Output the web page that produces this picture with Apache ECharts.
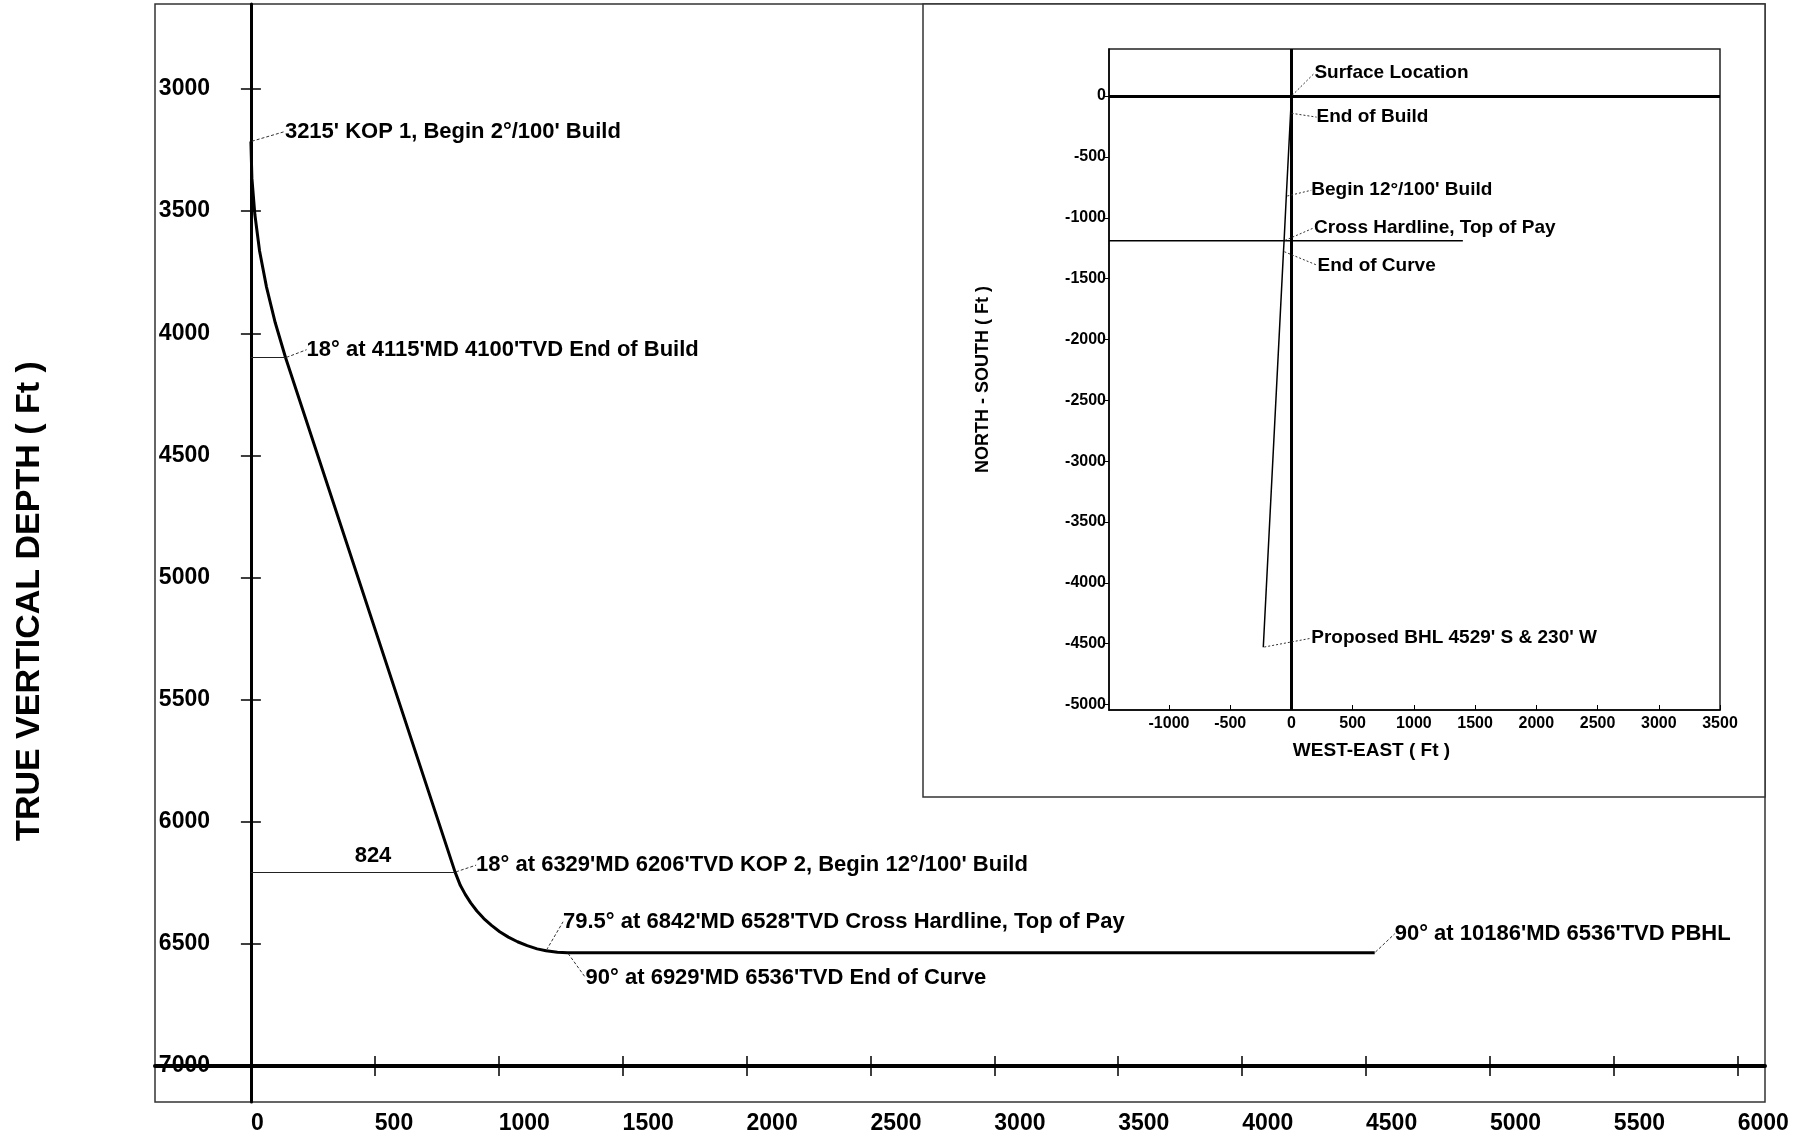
<!DOCTYPE html>
<html>
<head>
<meta charset="utf-8">
<title>Well Profile</title>
<script src="https://cdn.jsdelivr.net/npm/echarts@6/dist/echarts.min.js"></script>
<style>
  html, body { margin: 0; padding: 0; background: #fff; }
  #chart { width: 1796px; height: 1142px; }
</style>
</head>
<body>
<div id="chart"></div>
<script>
// section view: vertical section (ft) / true vertical depth (ft)
var sectionVS  = [0, 4, 16, 35, 63, 98, 140, 824, 845, 865, 887, 912, 940, 971, 1004, 1039, 1076, 1115, 1155, 1191, 1237, 1278, 4535];
var sectionTVD = [3215, 3365, 3514, 3663, 3811, 3956, 4100, 6206, 6260, 6297, 6332, 6365, 6396, 6424, 6450, 6472, 6491, 6507, 6520, 6528, 6534, 6536, 6536];

// horizontal tie lines from the axis to the curve
var tieVS  = [140, 824];
var tieTVD = [4100, 6206];

var noteText = [
    "3215' KOP 1, Begin 2°/100' Build",
    "18° at 4115'MD 4100'TVD End of Build",
    "18° at 6329'MD 6206'TVD KOP 2, Begin 12°/100' Build",
    "79.5° at 6842'MD 6528'TVD Cross Hardline, Top of Pay",
    "90° at 6929'MD 6536'TVD End of Curve",
    "90° at 10186'MD 6536'TVD PBHL"
];
var noteVS  = [0, 140, 824, 1191, 1278, 4535];
var noteTVD = [3215, 4100, 6206, 6528, 6536, 6536];

// plan view (inset): east (ft) / north (ft)
var planEast  = [0, -7, -42, -60, -65, -230];
var planNorth = [0, -140, -823, -1189, -1276, -4529];
var planText = [
    'Surface Location',
    'End of Build',
    "Begin 12°/100' Build",
    'Cross Hardline, Top of Pay',
    'End of Curve',
    "Proposed BHL 4529' S & 230' W"
];
var hardlineEast  = [-1490, 1400];
var hardlineNorth = -1189;

// tick labels
var vsTicks    = [0, 500, 1000, 1500, 2000, 2500, 3000, 3500, 4000, 4500, 5000, 5500, 6000];
var tvdTicks   = [3000, 3500, 4000, 4500, 5000, 5500, 6000, 6500, 7000];
var eastTicks  = [-1000, -500, 0, 500, 1000, 1500, 2000, 2500, 3000, 3500];
var northTicks = [-5000, -4500, -4000, -3500, -3000, -2500, -2000, -1500, -1000, -500, 0];

// label placement (pixels from the marked point)
var noteOffsets = [[33, -10], [20, -8], [20, -7], [16, -29], [17, 25], [19, -19]];
var planOffsets = [[22, -23], [25, 4], [24, -6], [29, -13], [33, 14], [47, -9]];

var FONT = "'Liberation Sans', Arial, sans-serif";
var INK = '#000';

function pairs(xs, ys) {
    var out = [];
    for (var i = 0; i < xs.length; i++) out.push([xs[i], ys[i]]);
    return out;
}
function plain(v) { return String(v); }

var chart = echarts.init(document.getElementById('chart'));

var option = {
    animation: false,
    backgroundColor: '#fff',
    textStyle: { fontFamily: FONT },
    grid: [
        { left: 155, top: 4, right: 31, bottom: 40, show: true, backgroundColor: 'transparent',
          borderColor: '#333', borderWidth: 1.5, outerBoundsMode: 'none', containLabel: false },
        { left: 923, top: 4, right: 31, bottom: 345, show: true, backgroundColor: '#fff',
          borderColor: '#333', borderWidth: 1.5, outerBoundsMode: 'none', containLabel: false },
        { left: 1109, top: 49, right: 76, bottom: 432, show: true, backgroundColor: '#fff',
          borderColor: '#222', borderWidth: 1.5, outerBoundsMode: 'none', containLabel: false }
    ],
    xAxis: [
        {
            gridIndex: 0, type: 'value', min: -387, max: 6110, position: 'bottom', offset: -36,
            axisLine: { show: true, onZero: false, lineStyle: { color: INK, width: 4 } },
            axisTick: { show: true, length: 10, customValues: vsTicks, lineStyle: { color: INK, width: 1.5 } },
            axisLabel: { show: true, customValues: vsTicks, formatter: plain, margin: 46, align: 'left', color: INK,
                         fontSize: 23, fontWeight: 'bold', fontFamily: FONT },
            splitLine: { show: false }
        },
        {
            gridIndex: 0, type: 'value', min: -387, max: 6110, position: 'bottom', offset: -36,
            axisLine: { show: false, onZero: false },
            axisTick: { show: true, inside: true, length: 10, customValues: vsTicks, lineStyle: { color: INK, width: 1.5 } },
            axisLabel: { show: false },
            splitLine: { show: false }
        },
        { gridIndex: 1, type: 'value', min: 0, max: 1, show: false },
        {
            gridIndex: 2, type: 'value', min: -1490, max: 3500, position: 'bottom',
            axisLine: { show: true, onZero: false, lineStyle: { color: INK, width: 1.5 } },
            axisTick: { show: true, inside: true, length: 5, customValues: eastTicks, lineStyle: { color: INK } },
            axisLabel: { show: true, customValues: eastTicks, formatter: plain, margin: 6, color: INK,
                         fontSize: 16, fontWeight: 'bold', fontFamily: FONT },
            splitLine: { show: false },
            name: 'WEST-EAST ( Ft )', nameLocation: 'middle', nameGap: 31,
            nameTextStyle: { color: INK, fontSize: 19, fontWeight: 'bold', fontFamily: FONT, padding: [0, 86, 0, 0] }
        }
    ],
    yAxis: [
        {
            // labels stay on the box edge while the line sits at x = 0
            gridIndex: 0, type: 'value', inverse: true, min: 2652, max: 7147, position: 'left',
            axisLine: { show: true, onZero: true, lineStyle: { color: INK, width: 3 } },
            axisTick: { show: true, length: 10, customValues: tvdTicks, lineStyle: { color: INK, width: 1.5 } },
            axisLabel: { show: true, customValues: tvdTicks, formatter: plain, margin: -55, color: INK, padding: [12, 0, 0, 0],
                         fontSize: 23, fontWeight: 'bold', fontFamily: FONT },
            splitLine: { show: false }
        },
        {
            gridIndex: 0, type: 'value', inverse: true, min: 2652, max: 7147, position: 'left',
            axisLine: { show: false, onZero: true },
            axisTick: { show: true, inside: true, length: 10, customValues: tvdTicks, lineStyle: { color: INK, width: 1.5 } },
            axisLabel: { show: false },
            splitLine: { show: false }
        },
        { gridIndex: 1, type: 'value', min: 0, max: 1, show: false },
        {
            gridIndex: 2, type: 'value', min: -5045, max: 387, position: 'left',
            axisLine: { show: true, onZero: false, lineStyle: { color: INK, width: 1.5 } },
            axisTick: { show: true, length: 4, customValues: northTicks, lineStyle: { color: INK } },
            axisLabel: { show: true, customValues: northTicks, formatter: plain, margin: 3, color: INK,
                         fontSize: 16, fontWeight: 'bold', fontFamily: FONT },
            splitLine: { show: false },
            name: 'NORTH - SOUTH ( Ft )', nameLocation: 'middle', nameRotate: 90, nameGap: 117,
            nameTextStyle: { color: INK, fontSize: 18, fontWeight: 'bold', fontFamily: FONT }
        },
        {
            // carries only the depth title, sits on the left edge of the main box
            gridIndex: 0, type: 'value', inverse: true, min: 2652, max: 7147, position: 'left',
            axisLine: { show: false, onZero: false },
            axisTick: { show: false },
            axisLabel: { show: false },
            splitLine: { show: false },
            name: 'TRUE VERTICAL DEPTH ( Ft )', nameLocation: 'middle', nameRotate: 90, nameGap: 108,
            nameMoveOverlap: false,
            nameTextStyle: { color: INK, fontSize: 34, fontWeight: 'bold', fontFamily: FONT, padding: [0, 96, 0, 0] }
        }
    ],
    series: [
        {
            name: 'profile', type: 'line', xAxisIndex: 0, yAxisIndex: 0,
            data: pairs(sectionVS, sectionTVD),
            symbol: 'none', z: 4,
            lineStyle: { color: INK, width: 3 },
            markLine: {
                silent: true, symbol: ['none', 'none'],
                lineStyle: { color: '#222', width: 1, type: 'solid' },
                label: { show: false },
                data: tieVS.map(function(v, i) {
                    var last = i === tieVS.length - 1;
                    return [
                        { coord: [0, tieTVD[i]],
                          label: { show: last, position: 'middle', formatter: String(v), color: INK,
                                   fontSize: 22, fontWeight: 'bold', fontFamily: FONT, padding: [0, 0, 0, 40] } },
                        { coord: [v, tieTVD[i]] }
                    ];
                })
            }
        },
        {
            name: 'notes', type: 'scatter', xAxisIndex: 0, yAxisIndex: 0,
            symbolSize: 2, itemStyle: { color: 'rgba(0,0,0,0)', opacity: 1 }, z: 5,
            data: noteVS.map(function(v, i) { return { value: [v, noteTVD[i]], name: noteText[i] }; }),
            label: { show: true, position: 'right', distance: 0, formatter: '{b}', color: INK,
                     fontSize: 22, fontWeight: 'bold', fontFamily: FONT },
            labelLine: { show: true, lineStyle: { color: '#333', width: 1, type: [3, 2] } },
            labelLayout: function(p) {
                var o = noteOffsets[p.dataIndex];
                return { dx: o[0], dy: o[1] };
            }
        },
        {
            name: 'plan', type: 'line', xAxisIndex: 3, yAxisIndex: 3,
            data: pairs(planEast, planNorth),
            symbol: 'none', z: 4,
            lineStyle: { color: INK, width: 1.5 },
            markLine: {
                silent: true, symbol: ['none', 'none'],
                lineStyle: { color: INK, width: 3, type: 'solid' },
                label: { show: false },
                data: [{ xAxis: 0 }, { yAxis: 0 }]
            }
        },
        {
            name: 'hardline', type: 'line', xAxisIndex: 3, yAxisIndex: 3,
            data: hardlineEast.map(function(e) { return [e, hardlineNorth]; }),
            symbol: 'none', z: 3,
            lineStyle: { color: INK, width: 1.5 }
        },
        {
            name: 'planNotes', type: 'scatter', xAxisIndex: 3, yAxisIndex: 3,
            symbolSize: 2, itemStyle: { color: 'rgba(0,0,0,0)', opacity: 1 }, z: 5,
            data: planEast.map(function(e, i) { return { value: [e, planNorth[i]], name: planText[i] }; }),
            label: { show: true, position: 'right', distance: 0, formatter: '{b}', color: INK,
                     fontSize: 19, fontWeight: 'bold', fontFamily: FONT },
            labelLine: { show: true, lineStyle: { color: '#333', width: 1, type: [2, 2] } },
            labelLayout: function(p) {
                var o = planOffsets[p.dataIndex];
                return { dx: o[0], dy: o[1] };
            }
        }
    ]
};

chart.setOption(option);
</script>
</body>
</html>
